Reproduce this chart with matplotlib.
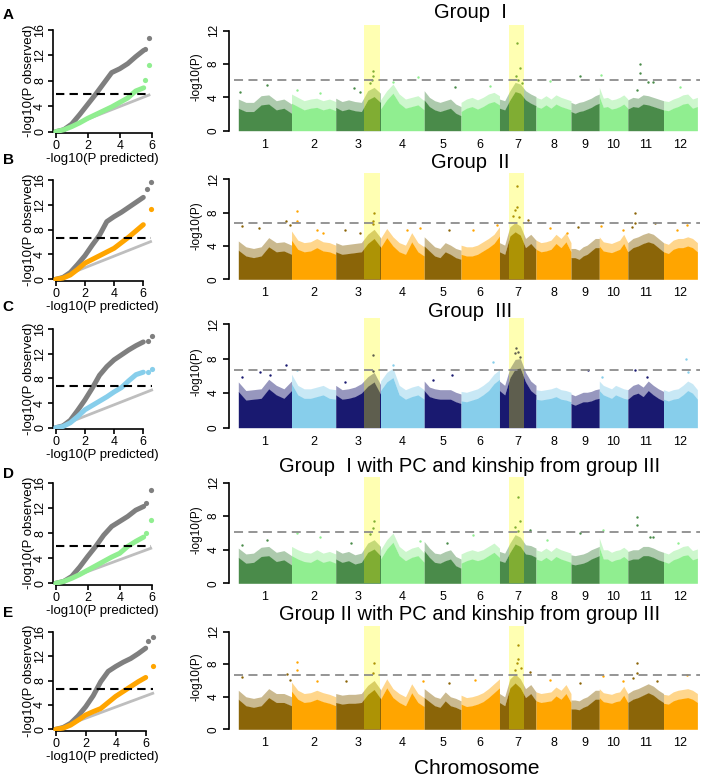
import matplotlib
matplotlib.use("Agg")
import matplotlib.pyplot as plt
import numpy as np

plt.rcParams['font.family'] = ['Liberation Sans', 'DejaVu Sans']

# ---------------- data ----------------
chrom_names = ['1', '2', '3', '4', '5', '6', '7', '8', '9', '10', '11', '12']
chrom_len = [43.27, 35.94, 36.41, 35.50, 29.96, 31.25, 29.70, 28.44, 23.01, 23.21, 29.02, 27.53]

# highlighted regions (chromosome, start Mb, end Mb)
regions = [(3, 23.0, 36.2), (7, 8.1, 20.1)]

titles = ['Group  I', 'Group  II', 'Group  III',
          'Group  I with PC and kinship from group III',
          'Group II with PC and kinship from group III']
letters = ['A', 'B', 'C', 'D', 'E']
thresholds = [6.1, 6.7, 6.7, 6.1, 6.7]

# dense-band top of -log10(P) along each chromosome (evenly spaced knots)
a_tips = [
    [3.8, 3.4, 3.4, 4.2, 4.3, 3.6, 3.8, 3.2],
    [4.4, 4.0, 3.6, 3.8, 3.9, 3.6, 3.8, 3.5],
    [3.9, 3.5, 3.7, 3.5, 3.4, 4.8, 5.2, 4.5],
    [3.7, 4.8, 5.6, 4.4, 3.8, 4.0, 4.2, 3.6],
    [4.8, 4.0, 3.6, 3.4, 3.6, 3.8, 3.2, 2.9],
    [3.4, 3.8, 4.0, 3.7, 4.0, 4.4, 4.6, 4.2],
    [3.8, 3.6, 4.8, 5.8, 5.6, 4.8, 4.4, 4.1],
    [4.0, 3.8, 4.2, 3.8, 4.3, 4.0, 3.8, 3.6],
    [3.4, 3.2, 3.4, 3.5, 3.7, 3.9, 4.2, 4.4],
    [5.2, 3.9, 4.0, 3.7, 3.8, 4.0, 4.3, 3.8],
    [3.7, 4.0, 3.9, 4.3, 4.2, 4.0, 3.8, 3.6],
    [3.6, 3.5, 3.8, 4.0, 4.3, 4.4, 3.8, 4.0],
]
b_tips = [
    [4.6, 3.9, 3.7, 3.9, 5.0, 4.4, 4.5, 4.1],
    [5.8, 4.7, 4.4, 4.5, 4.9, 4.5, 4.4, 4.1],
    [4.4, 4.1, 4.2, 4.3, 4.4, 5.4, 6.0, 5.0],
    [4.9, 6.1, 5.1, 4.4, 4.1, 5.6, 4.4, 3.9],
    [5.1, 4.5, 3.9, 3.7, 4.4, 4.1, 3.7, 3.5],
    [4.1, 3.9, 3.9, 4.1, 4.5, 4.9, 5.4, 6.3],
    [4.4, 4.1, 6.3, 6.8, 6.4, 4.9, 5.4, 4.7],
    [4.7, 4.4, 4.5, 4.7, 5.4, 4.9, 5.6, 4.4],
    [3.7, 3.7, 3.5, 3.9, 4.1, 4.5, 4.9, 4.9],
    [5.1, 4.5, 4.4, 4.3, 4.5, 4.7, 5.4, 4.4],
    [4.4, 4.9, 5.1, 5.4, 5.6, 5.4, 4.9, 4.4],
    [4.4, 4.2, 4.7, 4.9, 4.9, 5.1, 4.9, 4.4],
]
c_tips = [
    [5.3, 4.3, 4.4, 4.5, 5.6, 4.9, 4.5, 5.4],
    [6.2, 4.9, 4.5, 4.5, 4.7, 4.9, 4.5, 4.4],
    [4.9, 4.4, 4.5, 4.7, 5.1, 5.9, 6.4, 5.0],
    [5.4, 6.4, 6.9, 4.9, 4.4, 4.7, 4.9, 4.4],
    [5.4, 4.7, 4.5, 4.4, 4.4, 4.4, 4.1, 3.9],
    [4.2, 4.1, 4.3, 4.5, 4.9, 5.4, 6.2, 6.7],
    [5.4, 4.9, 6.9, 7.9, 8.0, 6.4, 5.4, 4.9],
    [4.4, 4.3, 4.4, 4.5, 4.7, 4.4, 4.3, 4.1],
    [3.9, 3.7, 3.9, 4.1, 4.1, 4.2, 4.4, 4.5],
    [5.4, 4.9, 4.7, 4.5, 4.9, 4.7, 4.5, 4.4],
    [4.4, 4.9, 5.1, 4.7, 5.4, 4.9, 4.5, 4.2],
    [4.4, 4.2, 4.4, 4.5, 4.9, 5.4, 5.1, 4.4],
]
d_tips = [
    [4.2, 3.5, 3.6, 4.3, 4.4, 3.7, 3.9, 3.3],
    [4.4, 4.0, 3.7, 3.6, 4.0, 3.6, 3.8, 3.5],
    [4.0, 3.6, 3.8, 3.4, 3.6, 4.8, 5.2, 4.4],
    [4.0, 5.2, 6.0, 4.4, 3.8, 4.2, 4.4, 3.6],
    [5.0, 4.2, 3.6, 3.5, 3.8, 4.0, 3.2, 2.9],
    [3.5, 3.8, 4.0, 3.8, 4.0, 4.4, 4.8, 4.2],
    [3.8, 3.6, 4.8, 5.8, 5.5, 4.6, 4.5, 4.2],
    [4.0, 3.8, 4.2, 3.8, 4.3, 4.0, 3.8, 3.6],
    [3.4, 3.3, 3.4, 3.5, 3.7, 4.0, 4.2, 4.4],
    [5.4, 4.0, 4.0, 3.7, 3.9, 4.0, 4.3, 3.9],
    [3.8, 4.0, 4.0, 4.4, 4.4, 4.2, 3.9, 3.7],
    [3.7, 3.5, 3.9, 4.1, 4.4, 4.5, 3.9, 4.1],
]
e_tips = [
    [4.8, 4.0, 3.8, 4.0, 5.0, 4.4, 4.4, 4.0],
    [5.8, 4.8, 4.4, 4.5, 4.8, 4.5, 4.3, 4.0],
    [4.4, 4.2, 4.3, 4.3, 4.4, 5.4, 6.0, 4.9],
    [4.8, 6.2, 5.0, 4.4, 4.0, 5.6, 4.4, 3.9],
    [5.0, 4.5, 4.0, 3.8, 4.6, 4.0, 3.8, 3.5],
    [4.2, 3.9, 4.0, 4.2, 4.5, 5.0, 5.6, 6.2],
    [4.4, 4.0, 6.2, 6.8, 6.2, 5.0, 5.5, 4.6],
    [4.6, 4.4, 4.5, 4.6, 5.2, 4.8, 5.5, 4.4],
    [3.6, 3.6, 3.5, 3.8, 4.0, 4.4, 4.8, 4.8],
    [5.0, 4.5, 4.4, 4.3, 4.5, 4.6, 5.3, 4.4],
    [4.4, 4.8, 5.0, 5.3, 5.6, 5.3, 4.8, 4.4],
    [4.3, 4.2, 4.6, 4.8, 4.9, 5.0, 4.8, 4.4],
]

# isolated SNPs above the band: (chromosome, position Mb, -log10 P)
a_hits = [(1, 1.4, 4.7), (1, 23.6, 5.5), (2, 4.2, 4.9), (2, 23.1, 4.5), (3, 15.2, 5.1),
          (3, 19.8, 4.7), (3, 27.9, 5.7), (3, 29.3, 6.1), (3, 30.1, 6.6), (3, 30.6, 7.2),
          (4, 10.4, 5.9), (4, 30.8, 6.5), (5, 25.0, 5.2), (6, 23.5, 5.4), (7, 13.2, 6.6),
          (7, 14.3, 10.5), (7, 15.4, 6.1), (7, 16.8, 7.5), (7, 18.1, 5.7), (8, 11.5, 6.0),
          (9, 7.3, 6.6), (10, 1.1, 6.7), (11, 7.2, 4.9), (11, 10.0, 8.0), (11, 10.0, 6.9),
          (11, 16.7, 5.9), (11, 20.7, 5.8), (12, 13.4, 5.2)]
b_hits = [(1, 2.7, 6.4), (1, 17.1, 6.1), (1, 38.8, 7.0), (1, 42.0, 6.5), (2, 4.2, 8.2),
          (2, 4.2, 7.0), (2, 20.4, 5.9), (2, 25.8, 5.5), (3, 7.6, 5.9), (3, 19.8, 5.5),
          (3, 30.6, 7.0), (3, 31.2, 7.9), (3, 30.1, 6.6), (4, 21.3, 5.9), (4, 32.1, 6.1),
          (5, 20.4, 5.9), (6, 9.9, 5.9), (6, 28.9, 6.5), (7, 11.3, 7.6), (7, 12.7, 8.3),
          (7, 14.0, 8.7), (7, 14.0, 11.2), (7, 16.2, 7.5), (7, 23.5, 7.1), (8, 11.5, 6.1),
          (8, 25.0, 5.5), (9, 6.0, 6.3), (10, 1.1, 6.4), (10, 19.5, 5.9), (11, 3.1, 6.3),
          (11, 5.8, 8.0), (11, 5.8, 6.7), (11, 22.1, 6.7), (12, 10.7, 5.9), (12, 18.8, 6.5)]
c_hits = [(1, 2.7, 5.9), (1, 17.6, 6.5), (1, 25.8, 6.1), (1, 38.8, 7.2), (2, 4.7, 6.7),
          (3, 7.6, 5.3), (3, 30.6, 6.6), (3, 30.6, 8.4), (4, 10.4, 7.3), (5, 7.4, 5.5),
          (5, 22.3, 6.1), (6, 26.2, 7.6), (7, 13.5, 9.2), (7, 12.7, 8.6), (7, 15.4, 8.8),
          (7, 16.8, 8.2), (9, 14.1, 6.7), (10, 1.9, 5.9), (11, 5.8, 6.7), (11, 15.3, 5.9),
          (12, 18.3, 8.0), (12, 20.2, 6.5)]
d_hits = [(1, 2.7, 4.6), (1, 23.6, 5.2), (2, 4.7, 6.0), (2, 23.1, 5.5), (3, 12.2, 4.8),
          (3, 27.9, 5.9), (3, 30.1, 6.6), (3, 31.2, 7.4), (4, 32.1, 5.0), (5, 18.3, 4.8),
          (6, 9.9, 5.8), (7, 12.7, 6.7), (7, 15.4, 10.3), (7, 15.4, 6.2), (7, 16.8, 7.4),
          (7, 24.9, 6.4), (8, 8.8, 5.2), (9, 7.3, 6.0), (10, 2.7, 6.4), (11, 7.7, 7.9),
          (11, 7.7, 7.0), (11, 18.0, 5.5), (11, 20.7, 5.5), (12, 12.0, 4.8)]
e_hits = [(1, 2.7, 6.4), (1, 39.3, 6.8), (1, 42.0, 6.1), (2, 4.7, 8.3), (2, 4.7, 7.3),
          (2, 20.4, 5.9), (3, 8.4, 5.9), (3, 30.1, 6.9), (3, 31.2, 8.1), (4, 34.3, 5.9),
          (5, 20.4, 5.7), (6, 11.3, 6.1), (7, 12.7, 7.3), (7, 14.0, 8.1), (7, 15.4, 8.7),
          (7, 15.4, 10.4), (7, 17.3, 7.5), (7, 24.9, 7.1), (8, 11.5, 6.1), (9, 7.3, 5.7),
          (10, 2.7, 6.6), (10, 19.5, 5.9), (11, 4.5, 6.3), (11, 7.2, 8.1), (11, 7.2, 6.9),
          (11, 23.4, 5.9), (12, 18.8, 6.7)]

# QQ plots: expected -log10(P) knots, observed for naive (gray) and corrected (colour)
qq_exp_short = [0, 0.5, 1, 1.5, 2, 2.5, 3, 3.5, 4, 4.5, 5, 5.5]
qq_exp_long = [0, 0.5, 1, 1.5, 2, 2.5, 3, 3.5, 4, 4.5, 5, 5.5, 6]
a_gray = [0, 0.3, 1.2, 2.7, 4.3, 5.9, 7.6, 9.3, 9.9, 10.7, 11.8, 12.8]
a_col = [0, 0.3, 0.8, 1.4, 2.1, 2.7, 3.3, 3.9, 4.6, 5.3, 6.4, 6.9]
b_gray = [0, 0.3, 1.1, 2.4, 3.8, 5.5, 7.1, 9.3, 10.1, 10.8, 11.6, 12.4, 13.2]
b_col = [0, 0.2, 0.7, 1.6, 2.6, 3.2, 3.8, 4.4, 5.0, 5.9, 6.8, 7.8, 8.8]
c_gray = [0, 0.3, 1.2, 2.8, 4.5, 6.4, 8.5, 9.9, 11.0, 11.8, 12.6, 13.3, 13.9]
c_col = [0, 0.2, 0.8, 1.8, 2.9, 3.6, 4.3, 5.0, 5.8, 6.5, 7.6, 8.6, 9.0]
d_gray = [0, 0.3, 1.1, 2.6, 4.3, 5.9, 7.7, 9.1, 9.9, 10.7, 11.7, 12.3]
d_col = [0, 0.3, 0.8, 1.4, 2.1, 2.8, 3.5, 4.2, 4.8, 5.9, 6.7, 7.4]
e_gray = [0, 0.3, 1.0, 2.2, 3.7, 5.5, 7.8, 9.5, 10.3, 11.0, 11.6, 12.4, 13.3]
e_col = [0, 0.2, 0.7, 1.5, 2.35, 2.9, 3.4, 4.4, 5.4, 6.2, 7.0, 7.8, 8.5]
# top tail points (expected, observed)
a_gray_tail = [(5.6, 13.0), (5.83, 14.7)]
a_col_tail = [(5.6, 8.1), (5.83, 10.5)]
b_gray_tail = [(6.23, 14.5), (6.5, 15.6)]
b_col_tail = [(6.5, 11.3)]
c_gray_tail = [(6.3, 14.1), (6.57, 14.9)]
c_col_tail = [(6.3, 9.1), (6.57, 9.5)]
d_gray_tail = [(5.63, 12.8), (5.94, 14.9)]
d_col_tail = [(5.63, 8.0), (5.94, 10.2)]
e_gray_tail = [(6.13, 14.4), (6.47, 15.2)]
e_col_tail = [(6.47, 10.3)]
qq_thresholds = [6.0, 6.6, 6.8, 6.0, 6.6]
qq_max_exp = [5.83, 6.5, 6.57, 5.94, 6.47]
qq_ref_end = [5.77, 6.07, 6.1, 5.6, 5.9]

# ---------------- style ----------------
dark_cols = ['#4A8B4A', '#8B6508', '#191970', '#4A8B4A', '#8B6508']
light_cols = ['#90EE90', '#FFA500', '#87CEEB', '#90EE90', '#FFA500']
qq_cols = ['#90EE90', '#FFA500', '#87CEEB', '#90EE90', '#FFA500']

W, H = 707, 779
fig = plt.figure(figsize=(W / 100, H / 100), dpi=100)


def px_axes(left, top, right, bottom):
    return fig.add_axes([left / W, 1 - bottom / H, (right - left) / W, (bottom - top) / H])


# per-row pixel layout: qq (y0, y16, x0, x6), manhattan (y0, y12)
qq_layout = [(131.7, 30.0, 55.7, 151.7), (279.3, 180.0, 55.7, 143.3), (427.7, 329.0, 55.7, 143.3),
             (583.3, 483.3, 55.7, 151.7), (729.3, 631.7, 55.7, 145.7)]
man_layout = [(130.7, 30.7), (279.3, 179.3), (427.7, 324.0), (583.3, 482.7), (729.3, 631.7)]
title_y = [12.5, 162, 311.5, 467, 614]
letter_y = [15, 160, 307, 474, 613]

tips_all = [a_tips, b_tips, c_tips, d_tips, e_tips]
hits_all = [a_hits, b_hits, c_hits, d_hits, e_hits]
gray_all = [a_gray, b_gray, c_gray, d_gray, e_gray]
col_all = [a_col, b_col, c_col, d_col, e_col]
gtail_all = [a_gray_tail, b_gray_tail, c_gray_tail, d_gray_tail, e_gray_tail]
ctail_all = [a_col_tail, b_col_tail, c_col_tail, d_col_tail, e_col_tail]
exp_all = [qq_exp_short, qq_exp_long, qq_exp_long, qq_exp_short, qq_exp_long]

starts = np.concatenate([[0], np.cumsum(chrom_len)[:-1]])
centers = starts + np.array(chrom_len) / 2
mb_px = 1.23
man_x0 = 238.3
fringe = 1.1

for r in range(5):
    # ---------- QQ plot ----------
    y0, y16, x0, x6 = qq_layout[r]
    sx = (x6 - x0) / 6
    sy = (y0 - y16) / 16
    left, right, top, bottom = 53, 160, y16 - 7, y0 + 1.5
    ax = px_axes(left, top, right, bottom)
    ax.set_xlim((left - x0) / sx, (right - x0) / sx)
    ax.set_ylim((y0 - bottom) / sy, (y0 - top) / sy)
    xm = qq_max_exp[r]
    ax.plot([0, xm], [0, qq_ref_end[r]], color='#BEBEBE', lw=2, zorder=1)
    ax.plot(exp_all[r], gray_all[r], color='#7F7F7F', lw=3.6, solid_capstyle='round', zorder=2)
    ax.plot(exp_all[r], col_all[r], color=qq_cols[r], lw=3.6, solid_capstyle='round', zorder=3)
    gt = np.array(gtail_all[r])
    ct = np.array(ctail_all[r])
    ax.scatter(gt[:, 0], gt[:, 1], s=14, color='#7F7F7F', lw=0, zorder=2)
    ax.scatter(ct[:, 0], ct[:, 1], s=14, color=qq_cols[r], lw=0, zorder=3)
    ax.plot([0, xm], [qq_thresholds[r]] * 2, color='black', lw=1.5, ls=(0, (4, 2.5)), zorder=4)
    for s in ['top', 'right']:
        ax.spines[s].set_visible(False)
    ax.spines['left'].set_bounds(0, 16)
    ax.spines['bottom'].set_bounds(0, 6)
    ax.spines['left'].set_linewidth(1.2)
    ax.spines['bottom'].set_linewidth(1.2)
    ax.set_xticks([0, 2, 4, 6])
    ax.set_yticks([0, 4, 8, 12, 16])
    ax.tick_params(length=3.5, width=1.2, labelsize=9, pad=1.5)
    ax.tick_params(axis='y', labelrotation=90)
    for lab in ax.get_yticklabels():
        lab.set_va('center')
    ax.patch.set_visible(False)
    fig.text(102 / W, 1 - (y0 + 27.5) / H, '-log10(P predicted)', ha='center', va='center', fontsize=9.5)
    fig.text(29 / W, 1 - ((y0 + y16) / 2) / H, '-log10(P observed)', ha='center', va='center',
             rotation=90, fontsize=9.5)
    fig.text(8 / W, 1 - letter_y[r] / H, letters[r], ha='center', va='center', fontsize=11,
             fontweight='bold')

    # ---------- Manhattan plot ----------
    my0, my12 = man_layout[r]
    msy = (my0 - my12) / 12
    mleft, mright, mtop, mbottom = 229.3, 700, my12 - 8, my0 + 0.5
    ax = px_axes(mleft, mtop, mright, mbottom)
    ax.set_xlim((mleft - man_x0) / mb_px, (mright - man_x0) / mb_px)
    ax.set_ylim((my0 - mbottom) / msy, (my0 - mtop) / msy)
    for c in range(12):
        col = dark_cols[r] if c % 2 == 0 else light_cols[r]
        tips = np.array(tips_all[r][c])
        xs = starts[c] + np.linspace(0, chrom_len[c], len(tips))
        ax.fill_between(xs, 0, tips - fringe, color=col, lw=0, zorder=2)
        ax.fill_between(xs, tips - fringe - 0.05, tips, color=col, alpha=0.45, lw=0, zorder=2)
    for chrom, pos, val in hits_all[r]:
        col = dark_cols[r] if (chrom - 1) % 2 == 0 else light_cols[r]
        ax.scatter(starts[chrom - 1] + pos, val, s=3, marker='o', color=col, lw=0, zorder=3)
    ylo, yhi = ax.get_ylim()
    for chrom, a, b in regions:
        ax.axvspan(starts[chrom - 1] + a, starts[chrom - 1] + b, ymin=(0 - ylo) / (yhi - ylo),
                   ymax=(12.7 - ylo) / (yhi - ylo), color='#FFFF00', alpha=0.3, lw=0, zorder=4)
    ax.axhline(thresholds[r], xmin=0.01, color='#8C8C8C', lw=1.3, ls=(0, (5, 3)), zorder=5)
    for s in ['top', 'right', 'bottom']:
        ax.spines[s].set_visible(False)
    ax.spines['left'].set_bounds(0, 12)
    ax.spines['left'].set_linewidth(1.2)
    ax.set_yticks([0, 4, 8, 12])
    ax.tick_params(axis='y', length=4, width=1.2, labelsize=8.5, pad=3, labelrotation=90)
    for lab in ax.get_yticklabels():
        lab.set_va('center')
    ax.set_xticks(centers)
    ax.set_xticklabels(chrom_names)
    ax.tick_params(axis='x', length=0, labelsize=9, pad=5.5)
    ax.set_ylabel('-log10(P)', fontsize=8.5, labelpad=4)
    ax.patch.set_visible(False)
    fig.text(470 / W, 1 - title_y[r] / H, titles[r], ha='center', va='center', fontsize=14.5)

fig.text(477 / W, 1 - 768 / H, 'Chromosome', ha='center', va='center', fontsize=15)

fig.savefig('out.png', dpi=100)
